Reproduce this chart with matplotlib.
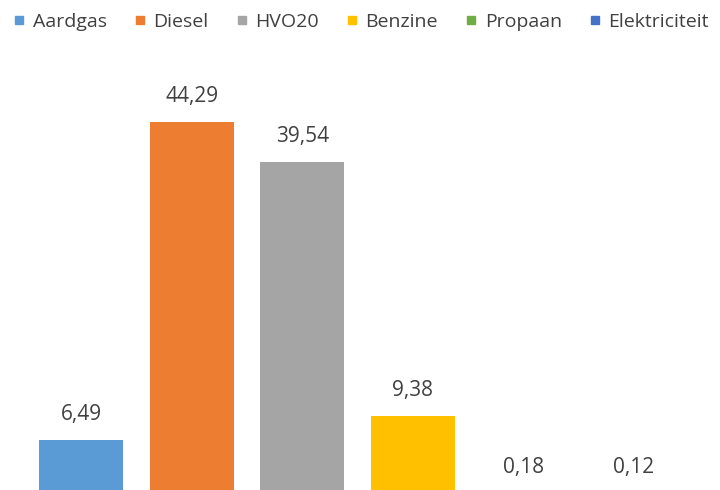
import matplotlib.pyplot as plt
from matplotlib.lines import Line2D

# brandstof verbruik
categories = ["Aardgas", "Diesel", "HVO20", "Benzine", "Propaan", "Elektriciteit"]
values = [6.49, 44.29, 39.54, 9.38, 0.18, 0.12]
colors = ["#5B9BD5", "#ED7D31", "#A5A5A5", "#FFC000", "#70AD47", "#4472C4"]

plt.rcParams['font.family'] = ['Open Sans', 'DejaVu Sans']
txt = "#404040"

fig = plt.figure(figsize=(7.2, 4.9), dpi=100)
ax = fig.add_axes([0.0361, -0.0094, 0.921, 0.858])

x = range(len(values))
ax.bar(x, values, width=0.76, color=colors)
for i, v in enumerate(values):
    ax.annotate(f"{v:.2f}".replace(".", ","), (i, v), xytext=(0, 18.5),
                textcoords="offset points", ha="center", va="center",
                fontsize=15, color=txt)

ax.set_xlim(-0.5, 5.5)
ax.set_ylim(0, 50)
ax.axis("off")

handles = [Line2D([], [], marker="s", linestyle="", markersize=6, color=c) for c in colors]
fig.legend(handles, categories, loc="upper left", bbox_to_anchor=(-0.003, 1.006),
           ncol=6, frameon=False, fontsize=14, labelcolor=txt,
           handlelength=0.6, handletextpad=0.4, columnspacing=1.4, borderpad=0.3)

fig.savefig("out.png", dpi=100)
